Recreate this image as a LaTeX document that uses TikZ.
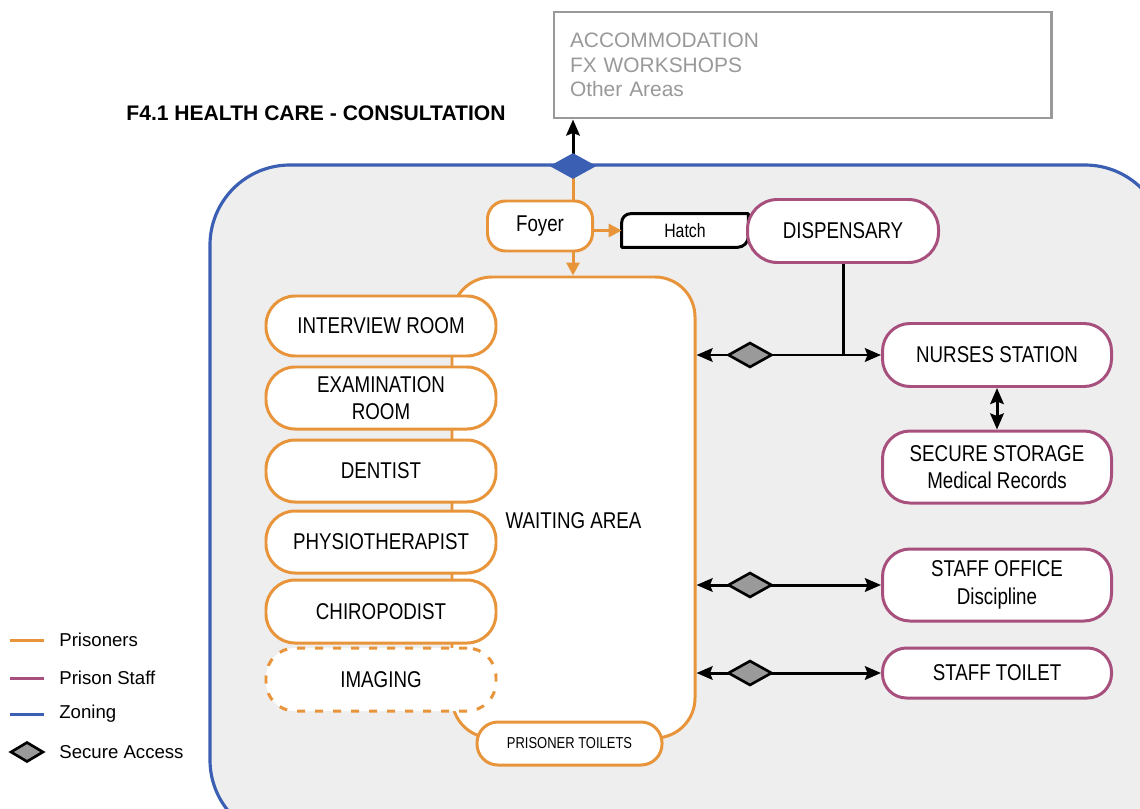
\documentclass[tikz,border=0pt]{standalone}
\usepackage{fontspec}
\setmainfont{Liberation Sans}
\newfontfamily\roomfont{Liberation Sans}[FakeStretch=0.82]
\usepackage{tikz}
\usetikzlibrary{arrows.meta,positioning,calc,shapes.geometric}
\definecolor{prisoner}{HTML}{E8943A}
\definecolor{staff}{HTML}{A8507D}
\definecolor{zoning}{HTML}{3B5FB3}
\definecolor{zonefill}{HTML}{EEEEEE}
\definecolor{outside}{HTML}{999999}
\definecolor{secure}{HTML}{9A9A9A}

\tikzset{
  roomtext/.style={font=\roomfont\fontsize{13}{15.5}\selectfont,align=center,inner sep=0pt},
  room/.style={roomtext,draw=prisoner,line width=1.7pt,fill=white,rounded corners=0.58cm,minimum width=4.6cm},
  staffroom/.style={roomtext,draw=staff,line width=1.7pt,fill=white,rounded corners=0.55cm,minimum width=4.58cm},
  secdia/.style={diamond,draw=black,line width=1.5pt,fill=secure,minimum width=0.88cm,minimum height=0.5cm,inner sep=0pt},
  link/.style={black,line width=1.7pt},
  twoway/.style={link,{Stealth[length=0.32cm,width=0.27cm,inset=0.05cm]}-{Stealth[length=0.32cm,width=0.27cm,inset=0.05cm]}},
  oneway/.style={link,-{Stealth[length=0.32cm,width=0.27cm,inset=0.05cm]}},
  orline/.style={draw=prisoner,line width=1.7pt},
  orarrow/.style={orline,-{Triangle[length=0.26cm,width=0.26cm]}},
  legtext/.style={anchor=west,inner sep=0pt,font=\fontsize{10.6}{12}\selectfont}
}

\begin{document}
\begin{tikzpicture}
\useasboundingbox (0,0) rectangle (22.8,-16.16);
\clip (0,0) rectangle (22.8,-16.16);

% zone
\draw[zoning,line width=1.8pt,fill=zonefill,rounded corners=1.6cm] (4.2,-3.3) rectangle (23.3,-16.8);

% title and outside areas
\node[font=\bfseries\fontsize{12}{14}\selectfont] (title) at (6.32,-2.26) {F4.1 HEALTH CARE - CONSULTATION};
\node[draw=outside,line width=1.7pt,fill=white,text=outside,minimum width=9.94cm,minimum height=2.12cm,
  text width=9.3cm,inner xsep=0.32cm,align=left,font=\fontsize{11.9}{13.9}\selectfont] (acc) at (16.05,-1.3)
  {ACCOMMODATION\\FX WORKSHOPS\\Other Areas};

% waiting area and rooms
\node[draw=prisoner,line width=1.7pt,fill=white,rounded corners=0.8cm,minimum width=4.86cm,minimum height=9.22cm] (wait) at (11.47,-10.15) {};
\node[roomtext] (waittxt) at (11.47,-10.42) {WAITING AREA};

\node[room,minimum height=1.2cm]  (interview) at (7.62,-6.52)  {INTERVIEW ROOM};
\node[room,minimum height=1.24cm] (exam)      at (7.62,-7.96)  {EXAMINATION\\ROOM};
\node[room,minimum height=1.24cm] (dentist)   at (7.62,-9.42)  {DENTIST};
\node[room,minimum height=1.24cm] (physio)    at (7.62,-10.84) {PHYSIOTHERAPIST};
\node[room,minimum height=1.26cm] (chiro)     at (7.62,-12.23) {CHIROPODIST};
\node[room,minimum height=1.26cm,dash pattern=on 0.16cm off 0.2cm] (imaging) at (7.62,-13.59) {IMAGING};
\node[room,minimum width=3.7cm,minimum height=0.86cm,rounded corners=0.42cm,
  font=\roomfont\fontsize{9}{11}\selectfont] (ptoilet) at (11.39,-14.87) {PRISONER TOILETS};

% foyer, hatch, dispensary
\node[room,minimum width=2.1cm,minimum height=1.0cm,rounded corners=0.36cm] (foyer) at (10.8,-4.52) {Foyer};
\node[minimum width=2.52cm,minimum height=0.66cm,inner sep=0pt] (hatch) at (13.7,-4.61) {};
\draw[link,fill=white,line join=round] ([yshift=-0.18cm]hatch.north west) arc[start angle=180,end angle=90,radius=0.18cm]
  -- (hatch.north east) -- ([yshift=0.22cm]hatch.south east) arc[start angle=0,end angle=-90,radius=0.22cm]
  -- (hatch.south west) -- cycle;
\node[roomtext,font=\roomfont\fontsize{11}{13}\selectfont] (hatchtxt) at (hatch) {Hatch};
\node[staffroom,minimum width=3.82cm,minimum height=1.26cm,rounded corners=0.6cm] (disp) at (16.86,-4.62) {DISPENSARY};

% staff side
\node[staffroom,minimum height=1.26cm] (nurse)  at (19.94,-7.1)  {NURSES STATION};
\node[staffroom,minimum height=1.44cm] (store)  at (19.94,-9.34) {SECURE STORAGE\\Medical Records};
\node[staffroom,minimum height=1.44cm] (office) at (19.94,-11.7) {STAFF OFFICE\\Discipline};
\node[staffroom,minimum height=1.0cm,rounded corners=0.48cm] (stoilet) at (19.94,-13.46) {STAFF TOILET};

% zone entry
\coordinate (entry) at (11.46,-3.32);
\draw[orline] (entry) -- (entry |- foyer.north);
\draw[oneway] (entry) -- (entry |- acc.south);
\node[diamond,fill=zoning,minimum width=0.94cm,minimum height=0.52cm,inner sep=0pt] (zd) at (entry) {};

% prisoner movement
\draw[orarrow] (entry |- foyer.south) -- (entry |- wait.north);
\draw[orarrow] (foyer.east |- hatch.west) -- (hatch.west);

% staff links
\draw[link] (disp.south) -- (disp.south |- nurse.west);
\draw[twoway] (nurse.west -| wait.east) -- (nurse.west);
\draw[twoway] (office.west -| wait.east) -- (office.west);
\draw[twoway] (stoilet.west -| wait.east) -- (stoilet.west);
\draw[twoway] (nurse.south) -- (store.north);
\node[secdia] (gd1) at (nurse.west -| 15.0,0) {};
\node[secdia] (gd2) at (office.west -| 15.0,0) {};
\node[secdia] (gd3) at (stoilet.west -| 15.0,0) {};

% legend
\node[legtext] (lgP) at (1.18,-12.8)  {Prisoners};
\node[legtext] (lgS) at (1.18,-13.56) {Prison Staff};
\node[legtext] (lgZ) at (1.18,-14.28) {Zoning};
\node[legtext] (lgA) at (1.18,-15.04) {Secure Access};
\draw[prisoner,line width=1.7pt] ([xshift=-0.3cm]lgP.west) -- ++(-0.68,0);
\draw[staff,line width=1.7pt] ([xshift=-0.3cm]lgS.west) -- ++(-0.68,0);
\draw[zoning,line width=1.7pt] ([xshift=-0.3cm]lgZ.west) -- ++(-0.68,0);
\node[secdia,minimum width=0.66cm,minimum height=0.4cm] (lgD) at (0.54,-15.04) {};
\end{tikzpicture}
\end{document}
